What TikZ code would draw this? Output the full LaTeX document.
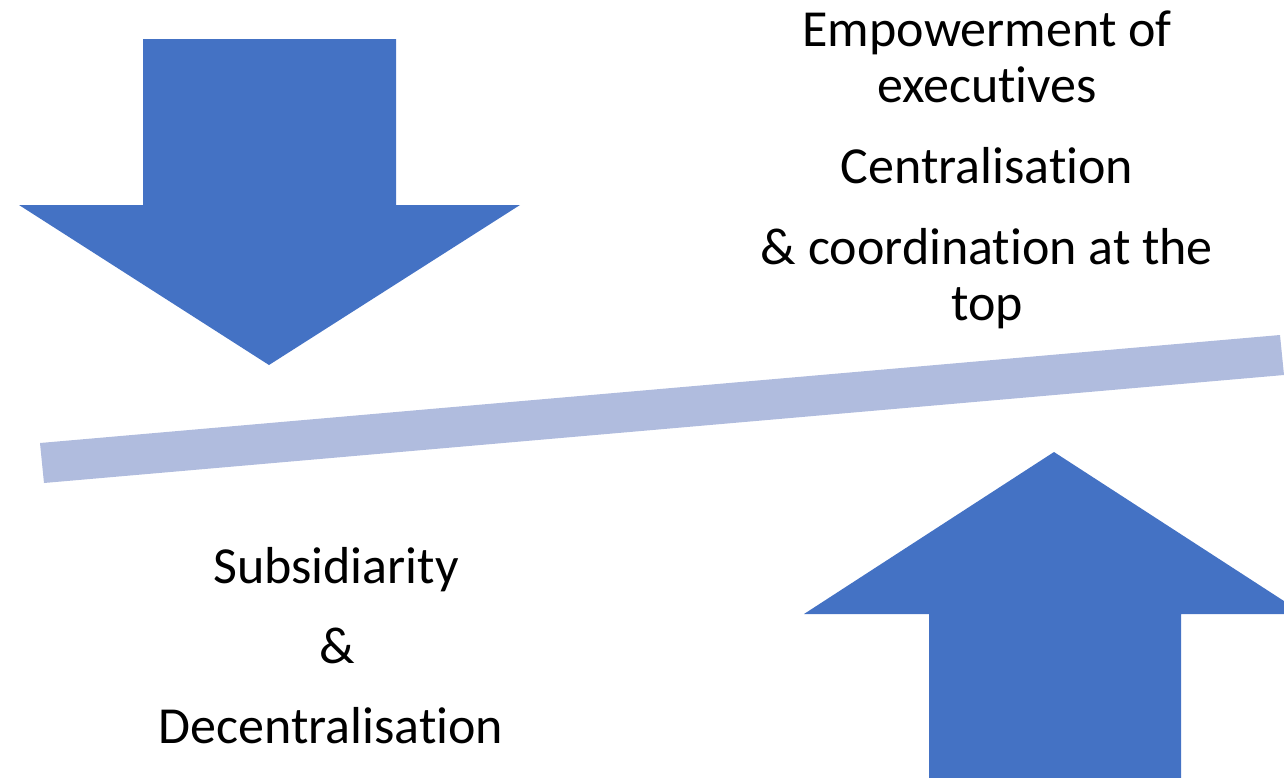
\documentclass[tikz,border=0pt]{standalone}
\usepackage{fontspec}
\setmainfont{Carlito}[Ligatures=NoCommon]
\definecolor{arrowblue}{HTML}{4472C4}
\definecolor{barblue}{HTML}{B0BCDE}
\tikzset{label text/.style={font=\fontsize{52}{56}\selectfont, align=center, anchor=base, inner sep=0pt}}

\begin{document}
\begin{tikzpicture}[x=1pt,y=-1pt]
  \clip (0,0) rectangle (1284,777);
  \fill[barblue] (40,443) -- (1280,335) -- (1284,375) -- (44,483) -- cycle; % bar
  \fill[arrowblue] (143,39) -- (396,39) -- (396,205) -- (520,205) -- (269,365)
    -- (19,205) -- (143,205) -- cycle; % down
  \fill[arrowblue] (929,790) -- (929,614) -- (804,614) -- (1054,452) -- (1304,614)
    -- (1181,614) -- (1181,790) -- cycle; % up
  \node[label text] (empower) at(987,102){Empowerment of\\executives};
  \node[label text] (central) at(987,183){Centralisation};
  \node[label text] (coord) at(987,320){\& coordination at the\\top};
  \node[label text] (subsid) at(336,583){Subsidiarity};
  \node[label text] (amp) at(337,663){\&};
  \node[label text] (decentral) at(331,743){Decentralisation};
\end{tikzpicture}
\end{document}
